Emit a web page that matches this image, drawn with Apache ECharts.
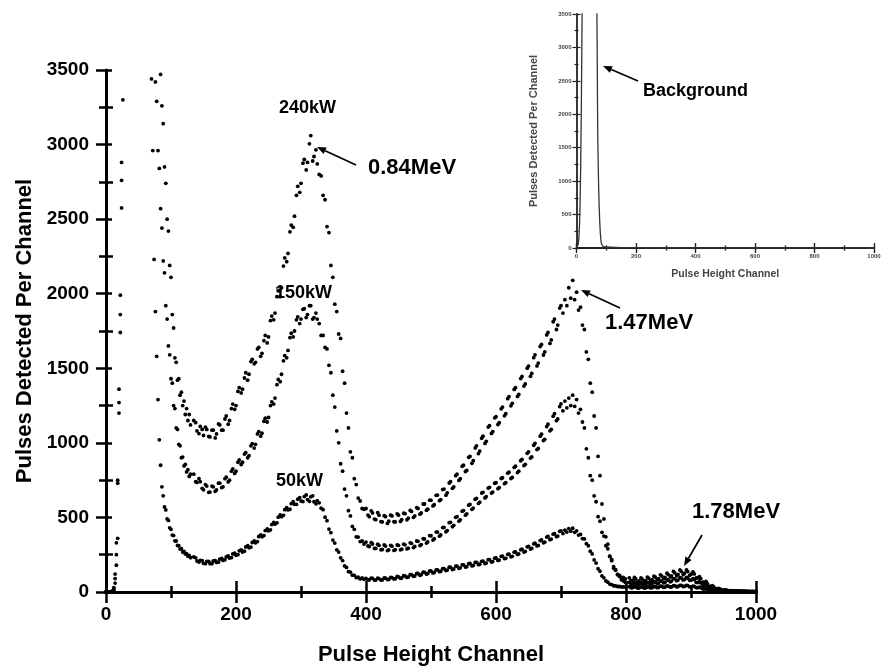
<!DOCTYPE html>
<html>
<head>
<meta charset="utf-8">
<script src="https://cdn.jsdelivr.net/npm/echarts@6/dist/echarts.min.js"></script>
<style>
html,body{margin:0;padding:0;background:#fff;}
#c{width:885px;height:671px;}
</style>
</head>
<body>
<div id="c"></div>
<script>
// ---------- DATA ----------
const channels = [
0,4,8,10,12,14,16,18,20,22,24,26,
68,70,72,74,76,78,80,82,84,86,88,90,92,94,96,98,100,102,104,106,108,110,112,114,116,118,120,122,124,126,128,130,
135,140,145,150,155,160,165,170,175,180,185,190,195,200,205,210,215,220,225,230,235,240,245,250,255,260,265,270,275,280,285,290,295,300,305,310,315,320,325,
328,331,334,337,340,343,346,349,352,355,358,361,364,367,370,373,376,379,382,385,388,391,394,397,
400,405,410,415,420,425,430,435,440,445,450,455,460,465,470,475,480,485,490,495,500,505,510,515,520,525,530,535,540,545,550,555,560,565,570,575,580,585,590,595,600,605,610,615,620,625,630,635,640,645,650,655,660,665,670,675,680,685,690,695,700,
703,706,709,712,715,718,721,724,727,730,733,736,739,742,745,748,751,754,757,760,763,766,769,772,775,778,781,784,787,790,793,796,799,
805,810,815,820,825,830,835,840,845,850,855,860,865,870,875,880,885,890,895,900,905,910,915,920,925,930,935,940,945,950,955,960,965,970,975,980,985,990,995,1000
];
const p240 = [
0,0,2,6,30,120,330,750,1360,1990,2880,3800,
4600,4400,4200,4050,3900,3780,3660,3560,3470,3260,3140,2850,2740,2500,2420,2190,2110,1860,1770,1570,1540,1420,1430,1320,1340,1250,1280,1190,1230,1150,1190,1120,
1150,1080,1110,1050,1090,1040,1085,1060,1120,1085,1180,1150,1260,1250,1370,1360,1470,1460,1560,1540,1640,1600,1720,1710,1850,1870,2020,2040,2240,2270,2460,2520,2720,2740,2900,2880,3060,2920,2870,
2800,2790,2660,2630,2450,2410,2190,2110,1930,1880,1730,1700,1480,1400,1200,1100,940,900,760,720,630,610,560,555,
560,505,530,485,515,470,505,475,510,470,515,485,525,495,540,510,560,530,590,555,615,585,650,620,690,665,740,705,790,760,850,815,910,880,980,945,1045,1010,1115,1075,1175,1135,1240,1195,1310,1265,1370,1325,1445,1395,1515,1465,1590,1535,1660,1610,1740,1690,1830,1790,1920,
1870,1960,1920,2040,1970,2090,1960,2010,1890,1910,1790,1760,1610,1560,1400,1340,1180,1100,910,780,590,490,370,320,240,210,160,145,118,112,97,98,87,
95,78,88,74,86,76,92,82,99,90,107,98,117,108,128,118,138,126,137,119,121,94,90,64,58,38,34,22,19,13,12,8,8,7,6,5,5,4,4,3
];
const p150 = [
0,0,2,5,20,90,250,730,1270,1860,2760,3600,
4100,3900,3750,3600,3420,3290,2960,2840,2570,2440,2220,2140,1920,1830,1650,1590,1430,1400,1250,1230,1100,1090,990,980,900,905,845,855,805,820,775,790,
790,735,740,685,710,670,705,685,730,705,770,750,825,810,885,870,935,915,995,990,1075,1065,1165,1170,1275,1300,1425,1460,1585,1620,1735,1750,1845,1830,1900,1860,1920,1840,1830,
1800,1720,1720,1640,1630,1520,1470,1320,1240,1080,1000,860,810,690,645,545,510,440,420,370,368,338,342,322,
335,305,322,292,312,285,308,282,307,284,312,287,316,294,326,305,340,318,356,336,377,357,402,383,433,412,467,447,505,484,546,524,587,563,628,602,668,640,702,670,733,700,766,733,803,768,843,810,889,856,940,906,997,963,1058,1024,1125,1090,1196,1160,1262,
1215,1280,1235,1300,1250,1320,1245,1290,1200,1225,1140,1100,960,900,780,750,645,605,505,475,400,375,310,290,238,218,170,150,116,104,82,74,63,
64,52,59,50,58,51,61,55,66,60,72,65,79,73,88,80,94,84,93,79,83,63,62,44,41,27,25,15,14,9,9,6,6,5,5,4,4,3,3,2
];
const p50 = [
0,0,1,4,10,60,180,360,1200,1740,2575,3300,
3800,3440,2960,2230,1880,1580,1290,1020,850,705,645,570,550,490,480,430,420,382,378,343,342,312,310,288,290,268,273,255,257,240,245,230,
235,208,212,192,205,190,208,198,220,212,236,228,255,246,276,268,302,296,332,330,372,370,412,410,452,455,502,505,552,550,592,588,622,610,640,620,638,605,612,
598,562,552,502,478,422,398,348,328,283,268,229,211,175,165,137,133,113,112,96,99,88,94,85,
92,82,91,80,90,81,93,84,97,89,102,94,108,100,116,108,124,116,132,124,141,131,149,139,157,147,166,155,174,162,182,170,191,178,199,186,207,194,217,204,228,214,240,226,254,239,269,255,287,272,306,292,327,312,349,334,372,355,392,375,410,
392,415,402,425,408,428,400,410,382,386,358,356,324,310,274,255,215,194,156,139,108,95,74,66,53,50,42,41,37,37,34,35,33,
36,29,34,27,33,28,34,29,36,31,38,33,40,35,42,37,44,38,43,35,37,29,29,20,19,13,12,8,8,6,5,4,4,3,3,3,2,2,2,2
];
// additional read-off points between the channels above (smooth parts of the spectra)
const channelsFill = [
138,143,148,153,158,163,168,173,178,183,188,193,198,203,208,213,218,223,228,233,238,243,248,253,258,263,268,273,278,283,288,293,298,303,308,313,318,323,
403,408,413,418,423,428,433,438,443,448,453,458,463,468,473,478,483,488,493,498,503,508,513,518,523,528,533,538,543,548,553,558,563,568,573,578,583,588,593,598,603,608,613,618,623,628,633,638,643,648,653,658,663,668,673,678,683,688,693,698,
808,813,818,823,828,833,838,843,848,853,858,863,868,873,878,883,888,893,898,903,908,913,918,923,928,933,938,943,948,953,958,963,968,973,978,983,988,993,998
];
const p240Fill = [
1135,1062,1090,1105,1043,1085,1033,1127,1085,1160,1125,1230,1225,1345,1335,1435,1420,1545,1530,1630,1580,1685,1670,1820,1825,1980,1980,2185,2215,2415,2445,2660,2680,2875,2830,3005,2890,2965,
516,544,489,532,472,512,460,515,471,524,473,528,484,547,501,566,522,590,548,616,577,648,612,687,649,731,695,780,748,843,808,903,863,966,928,1031,996,1106,1063,1168,1123,1228,1181,1296,1248,1358,1311,1431,1381,1501,1446,1571,1516,1646,1589,1724,1667,1812,1760,1904,
76,98,69,94,69,99,75,106,82,115,90,126,100,138,109,148,117,149,112,135,94,103,66,71,39,43,22,24,13,14,9,9,7,6,5,5,4,4,3
];
const p150Fill = [
740,760,695,720,668,710,675,730,700,760,738,810,795,870,855,925,900,980,965,1060,1045,1145,1140,1250,1260,1390,1410,1550,1570,1705,1710,1825,1800,1895,1840,1920,1830,1870,
309,331,292,320,283,315,278,313,279,315,283,321,289,330,298,342,311,357,328,378,348,402,374,432,404,465,438,501,475,542,515,582,554,622,594,663,631,697,663,729,693,761,726,797,761,835,801,880,848,930,898,984,955,1045,1015,1109,1081,1179,1149,1243,
51,64,48,62,48,64,52,69,55,74,61,82,68,90,76,97,80,98,78,90,65,69,46,48,28,30,16,17,10,9,7,6,5,5,4,4,3,3,2
];
const p50Fill = [
229,201,210,190,206,190,211,200,225,216,242,231,260,250,283,274,310,301,342,338,383,378,423,417,466,464,517,514,565,555,605,588,633,606,651,608,645,591,
81,93,80,93,80,95,83,98,88,104,92,110,98,116,105,124,112,133,120,141,128,149,136,157,144,166,151,174,159,182,167,190,175,198,183,206,191,217,201,227,212,239,224,252,236,267,252,283,268,303,288,323,309,345,330,368,351,388,371,407,
28,36,26,35,26,35,27,37,29,39,31,41,33,43,35,45,37,45,35,40,30,32,21,22,14,13,9,8,6,5,4,4,3,3,3,2,2,2,2
];
const bgChannels = [0,2,4,6,8,10,12,14,16,18,20,30,40,50,60,66,68,69,70,71,72,74,76,78,80,82,84,88,95,100,150,200,300,400,500,600,700,800,900,1000];
const bgCounts   = [0,5,20,60,150,330,650,1200,2000,3000,4200,8000,9000,9000,8000,5500,3800,3300,2600,1900,1500,1000,650,400,230,120,60,30,15,10,6,5,4,3,3,2,2,2,1,1];
const xTicks = [0,200,400,600,800,1000];
const yTicks = [0,500,1000,1500,2000,2500,3000,3500];
const seriesNames = ['240kW','150kW','50kW'];

// ---------- CHART ----------
const FONT = '"Liberation Sans", Arial, Helvetica, sans-serif';
const chart = echarts.init(document.getElementById('c'), null, {renderer:'canvas'});
const pair = (xs, ys) => xs.map((x, i) => [x, ys[i]]);
const plain = v => String(v);

function mkX(grid, big, opts) {
  const major = big ? 11 : 5, minor = big ? 6 : 2.5, lw = big ? 2.5 : 1.4;
  return Object.assign({
    type:'value', gridIndex:grid, position:'bottom', min:xTicks[0], max:xTicks[xTicks.length-1], interval:xTicks[1]-xTicks[0],
    splitLine:{show:false},
    axisLine:{show:true, onZero:false, lineStyle:{color: big?'#000':'#222', width: big?3:1.8}},
    axisTick:{show:true, length:major, lineStyle:{color: big?'#000':'#222', width:lw}},
    minorTick:{show:true, splitNumber:2, length:minor, lineStyle:{color: big?'#000':'#222', width:lw}},
  }, opts);
}
function mkY(grid, big, opts) {
  const major = big ? 10 : 4, minor = big ? 7 : 2, lw = big ? 2.5 : 1.2;
  return Object.assign({
    type:'value', gridIndex:grid, position:'left', min:yTicks[0], max:yTicks[yTicks.length-1], interval:yTicks[1]-yTicks[0],
    splitLine:{show:false},
    axisLine:{show:true, onZero:false, lineStyle:{color: big?'#000':'#222', width: big?3:1.8}},
    axisTick:{show:true, length:major, lineStyle:{color: big?'#000':'#222', width:lw}},
    minorTick:{show:true, splitNumber:2, length:minor, lineStyle:{color: big?'#000':'#222', width:lw}},
  }, opts);
}

const bigLabel = {fontSize:19, fontWeight:'bold', color:'#000', fontFamily:FONT, formatter:plain};
const smallLabel = {fontSize:6, fontWeight:'bold', color:'#444', fontFamily:FONT, formatter:plain};

const xAxis = [
  mkX(0, true, {axisLabel:Object.assign({margin:13}, bigLabel),
    name:'Pulse Height Channel', nameLocation:'middle', nameGap:52,
    nameTextStyle:{fontSize:22, fontWeight:'bold', color:'#000', fontFamily:FONT}}),
  mkX(0, true, {axisLine:{show:false}, axisLabel:{show:false}, axisTick:{show:true, inside:true, length:11, lineStyle:{color:'#000', width:2.5}}}),
  mkX(1, false, {axisLabel:Object.assign({margin:5}, smallLabel),
    name:'Pulse Height Channel', nameLocation:'middle', nameGap:21,
    nameTextStyle:{fontSize:10.5, fontWeight:'bold', color:'#444', fontFamily:FONT}}),
  mkX(1, false, {axisLine:{show:false}, axisLabel:{show:false}, axisTick:{show:true, inside:true, length:5, lineStyle:{color:'#222', width:1.4}}})
];
const yAxis = [
  mkY(0, true, {axisLabel:Object.assign({margin:17}, bigLabel),
    name:'Pulses Detected Per Channel', nameLocation:'middle', nameGap:70,
    nameTextStyle:{fontSize:22, fontWeight:'bold', color:'#000', fontFamily:FONT}}),
  mkY(0, true, {axisLine:{show:false}, axisLabel:{show:false}, axisTick:{show:true, inside:true, length:6, lineStyle:{color:'#000', width:2.5}}}),
  mkY(1, false, {axisLabel:Object.assign({margin:5}, smallLabel),
    name:'Pulses Detected Per Channel', nameLocation:'middle', nameGap:37,
    nameTextStyle:{fontSize:11, fontWeight:'bold', color:'#444', fontFamily:FONT}}),
  mkY(1, false, {axisLine:{show:false}, axisLabel:{show:false}, axisTick:{show:true, inside:true, length:4, lineStyle:{color:'#222', width:1.2}}})
];

const dataSets = [[p240, p240Fill], [p150, p150Fill], [p50, p50Fill]];
const series = dataSets.map((d, k) => ({
  name: seriesNames[k], type:'scatter', xAxisIndex:0, yAxisIndex:0,
  data: pair(channels, d[0]).concat(pair(channelsFill, d[1])),
  symbol:'circle', symbolSize:3.8, clip:true,
  itemStyle:{color:'#000', opacity:1}, silent:true
}));
series.push({
  name:'Background', type:'line', xAxisIndex:2, yAxisIndex:2,
  data: pair(bgChannels, bgCounts), showSymbol:false, symbol:'none', clip:true,
  lineStyle:{color:'#333', width:1.3}, silent:true
});

function arrow(x1, y1, x2, y2) {
  const a = Math.atan2(y2 - y1, x2 - x1), L = 9, W = 3.6;
  const bx = x2 - L * Math.cos(a), by = y2 - L * Math.sin(a);
  const px = -Math.sin(a), py = Math.cos(a);
  return [
    {type:'line', shape:{x1:x1, y1:y1, x2:bx, y2:by}, style:{stroke:'#000', lineWidth:1.7}},
    {type:'polygon', shape:{points:[[x2, y2], [bx + W*px, by + W*py], [bx - W*px, by - W*py]]}, style:{fill:'#000'}}
  ];
}
function label(text, x, y, size) {
  return {type:'text', x:x, y:y, style:{text:text, fill:'#000', font:'bold ' + size + 'px ' + FONT, textAlign:'left', textVerticalAlign:'middle'}};
}

const graphic = [
  label(seriesNames[0], 279, 108, 18),
  label(seriesNames[1], 275, 293, 18),
  label(seriesNames[2], 276, 481, 18),
  label('0.84MeV', 368, 168, 22),
  label('1.47MeV', 605, 323, 22),
  label('1.78MeV', 692, 512, 22),
  label('Background', 643, 91, 18),
  ...arrow(356, 165, 317, 147),
  ...arrow(620, 308, 581, 290),
  ...arrow(702, 535, 684, 566),
  ...arrow(638, 81, 603, 66)
];

chart.setOption({
  animation:false,
  backgroundColor:'#fff',
  textStyle:{fontFamily:FONT},
  grid:[
    {left:106, top:70, width:650, height:522, containLabel:false},
    {left:576.5, top:14, width:297.5, height:234, containLabel:false}
  ],
  xAxis:xAxis, yAxis:yAxis, series:series, graphic:graphic
});
</script>
</body>
</html>
